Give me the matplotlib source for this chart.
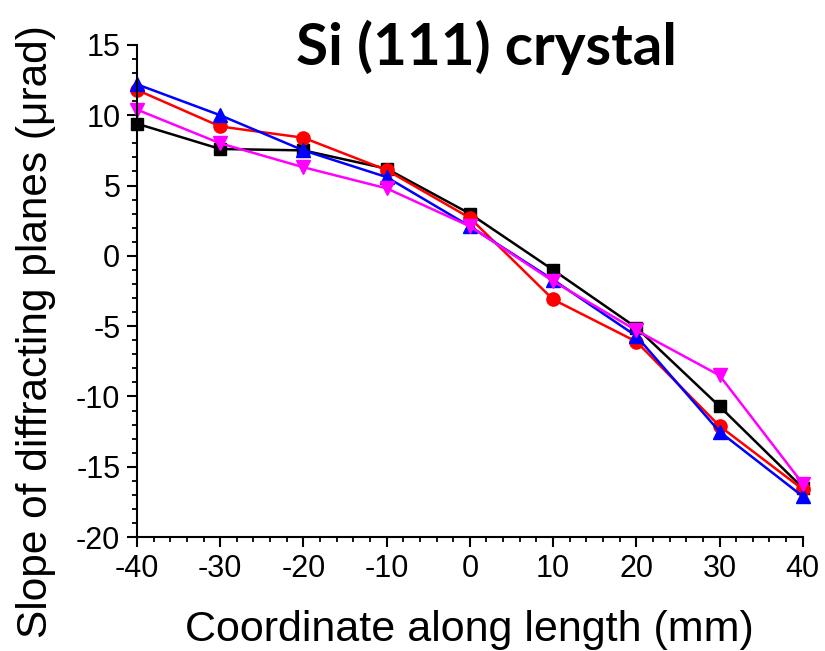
import matplotlib
matplotlib.use('Agg')
import matplotlib.pyplot as plt
from matplotlib.ticker import MultipleLocator

plt.rcParams['font.family'] = ['Liberation Sans', 'DejaVu Sans']
plt.rcParams['axes.unicode_minus'] = False

# coordinate along the crystal length (mm)
coord = [-40, -30, -20, -10, 0, 10, 20, 30, 40]

# slope of diffracting planes (urad) for the four measurements
slope_black = [9.4, 7.6, 7.5, 6.2, 3.0, -1.0, -5.1, -10.7, -16.5]
slope_red = [11.8, 9.2, 8.4, 6.1, 2.7, -3.1, -6.1, -12.1, -16.6]
slope_blue = [12.2, 10.0, 7.5, 5.6, 2.1, -1.7, -5.7, -12.5, -17.1]
slope_magenta = [10.4, 8.0, 6.3, 4.8, 2.1, -1.8, -5.3, -8.5, -16.2]

fig = plt.figure(figsize=(8.25, 6.51), dpi=100)
ax = fig.add_axes([0.166, 0.175, 0.807, 0.756])

ax.plot(coord, slope_black, color='black', marker='s', ms=8.5, lw=1.8, clip_on=False)
ax.plot(coord, slope_red, color='red', marker='o', ms=9.5, lw=1.8, clip_on=False)
ax.plot(coord, slope_blue, color='blue', marker='^', ms=10, lw=1.8, clip_on=False)
ax.plot(coord, slope_magenta, color='magenta', marker='v', ms=10, lw=1.8, clip_on=False)

ax.set_xlim(-40, 40)
ax.set_ylim(-20, 15)
ax.xaxis.set_major_locator(MultipleLocator(10))
ax.xaxis.set_minor_locator(MultipleLocator(2))
ax.yaxis.set_major_locator(MultipleLocator(5))
ax.yaxis.set_minor_locator(MultipleLocator(1))

for side in ['top', 'right']:
    ax.spines[side].set_visible(False)
for side in ['left', 'bottom']:
    ax.spines[side].set_linewidth(1.5)

ax.tick_params(which='major', direction='out', length=7, width=1.5, labelsize=22, pad=5)
ax.tick_params(which='minor', direction='out', length=3.6, width=1.3)

ax.set_xlabel('Coordinate along length (mm)', fontsize=31, labelpad=19)
ax.set_ylabel('Slope of diffracting planes (\u03bcrad)', fontsize=30.5)
ax.yaxis.set_label_coords(-0.122, 0.417)

fig.text(0.59, 0.900, 'Si (111) crystal', fontsize=42, fontweight='bold',
         family=['Lato', 'DejaVu Sans'], ha='center', va='baseline')

fig.savefig('out.png', dpi=100)
